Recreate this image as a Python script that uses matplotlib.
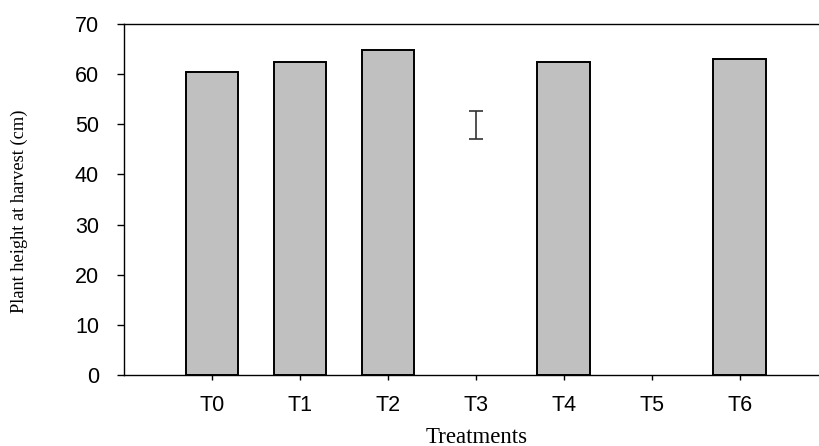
import numpy as np
import matplotlib
matplotlib.use("Agg")
import matplotlib.pyplot as plt

treatments = ["T0", "T1", "T2", "T3", "T4", "T5", "T6"]
height = [60.4, 62.5, 64.9, np.nan, 62.5, np.nan, 63.1]
err_value = [np.nan, np.nan, np.nan, 49.9, np.nan, np.nan, np.nan]
err_size = [0, 0, 0, 2.8, 0, 0, 0]

fig = plt.figure(figsize=(8.19, 4.46), dpi=100)
ax = fig.add_axes([0.1514, 0.1592, 0.8486, 0.787])

x = np.arange(len(treatments))
ax.bar(x, height, width=0.6, color="#c0c0c0", edgecolor="black", linewidth=1.4)
ax.errorbar(x, err_value, yerr=err_size, fmt="none", ecolor="#333333",
            elinewidth=1.2, capsize=5, capthick=1.2)

ax.set_xlim(-1, 6.9)
ax.set_ylim(0, 70)
ax.set_yticks(range(0, 71, 10))
ax.set_xticks(x)
ax.set_xticklabels(treatments)

for s in ["left", "bottom", "top"]:
    ax.spines[s].set_linewidth(1.0)
ax.spines["right"].set_visible(False)

ax.tick_params(axis="y", direction="out", length=5, width=1.0, pad=13,
               labelsize=15.5, left=True, right=False)
ax.tick_params(axis="x", direction="out", length=3.5, width=1.0, pad=11,
               labelsize=15.5, top=False)
for lab in ax.get_xticklabels() + ax.get_yticklabels():
    lab.set_family("Liberation Sans")

ax.set_xlabel("Treatments", family="Liberation Serif", fontsize=16.5, va="center")
ax.xaxis.set_label_coords(0.508, -0.177)
ax.set_ylabel("Plant height at harvest (cm)", family="Liberation Serif",
              fontsize=13.2, va="center")
ax.yaxis.set_label_coords(-0.150, 0.467)

fig.savefig("out.png", dpi=100)
